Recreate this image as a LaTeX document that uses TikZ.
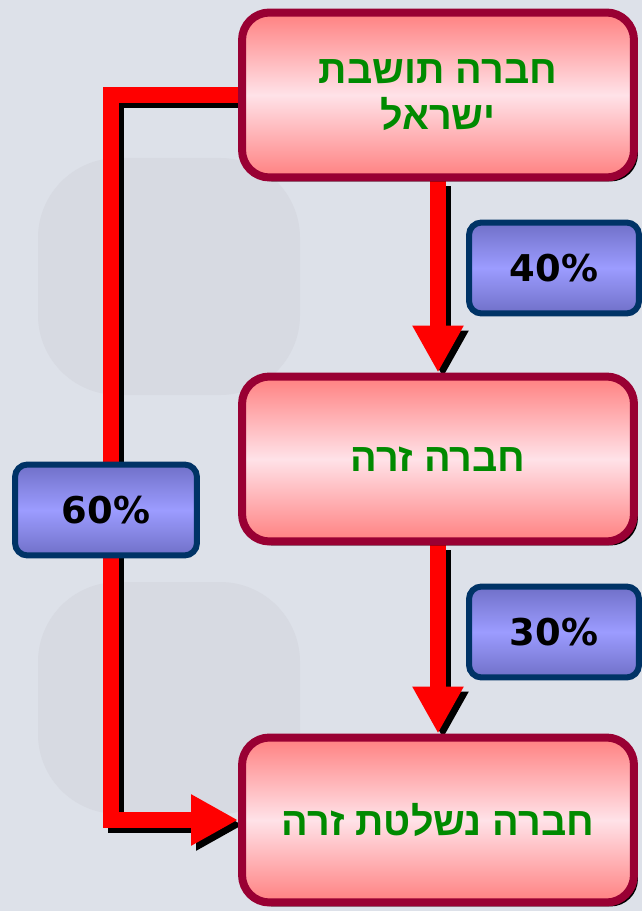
\documentclass[tikz,border=0pt]{standalone}
\usepackage{fontspec}
\usetikzlibrary{arrows.meta,shadows}
\newfontfamily\hebfont[Script=Hebrew]{Liberation Sans}
\newfontfamily\pctfont{DejaVu Sans}
\TeXXeTstate=1
\definecolor{bgblue}{HTML}{DDE1E9}
\definecolor{markgray}{HTML}{D7DAE2}
\definecolor{boxrim}{HTML}{990033}
\definecolor{boxpink}{HTML}{FF8080}
\definecolor{boxlight}{HTML}{FFE2E8}
\definecolor{pctrim}{HTML}{003366}
\definecolor{pctdark}{HTML}{7070C8}
\definecolor{pctlight}{HTML}{9C9CFF}
\definecolor{textgreen}{HTML}{008A00}
\pgfdeclarelayer{back}
\pgfdeclarelayer{links}
\pgfsetlayers{back,links,main}
\tikzset{company/.style={draw=boxrim, line width=0.16cm, rounded corners=0.55cm,
    top color=boxpink, bottom color=boxpink, middle color=boxlight,
    minimum width=7.84cm, minimum height=3.3cm, align=center, text=textgreen,
    font=\hebfont\bfseries\fontsize{22.5}{26}\selectfont,
    drop shadow={opacity=1, fill=black, shadow xshift=0.08cm, shadow yshift=-0.08cm}},
  share/.style={draw=pctrim, line width=0.12cm, rounded corners=0.25cm,
    top color=pctdark, bottom color=pctdark, middle color=pctlight,
    minimum width=3.4cm, minimum height=1.82cm, font=\pctfont\bfseries\fontsize{21}{25}\selectfont},
  flow/.style={red, line width=0.32cm, -{Triangle[length=0.94cm,width=0.96cm]}},
  flowshade/.style={flow, black, transform canvas={shift={(0.1cm,-0.1cm)}}}}

\begin{document}
\begin{tikzpicture}[x=0.02cm,y=-0.02cm]
  \useasboundingbox (0,0) rectangle (642,911);
  \begin{pgfonlayer}{back}
    \fill[bgblue] (0,0) rectangle (642,911);
    \fill[markgray, rounded corners=1.6cm] (38,158) rectangle (300,395);
    \fill[markgray, rounded corners=1.6cm] (38,582) rectangle (300,814);
  \end{pgfonlayer}

  % companies
  \node[company] (resident) at (438,95) {\beginR חברה תושבת\endR\\\beginR ישראל\endR};
  \node[company] (foreign) at (438,459) {\beginR חברה זרה\endR};
  \node[company] (controlled) at (438,820) {\beginR חברה נשלטת זרה\endR};
  \coordinate (elbow) at (111,95);

  % holdings
  \begin{pgfonlayer}{links}
    \draw[flowshade] (resident.south) -- (foreign.north);
    \draw[flow] (resident.south) -- (foreign.north);
    \draw[flowshade] (foreign.south) -- (controlled.north);
    \draw[flow] (foreign.south) -- (controlled.north);
    \draw[flowshade] (resident.west) -- (elbow) |- (controlled.west);
    \draw[flow] (resident.west) -- (elbow) |- (controlled.west);
  \end{pgfonlayer}

  \node[share] (top share) at (554,268) {40\%};
  \node[share] (low share) at (554,632) {30\%};
  \node[share, minimum width=3.64cm] (side share) at (106,510) {60\%};
\end{tikzpicture}
\end{document}
